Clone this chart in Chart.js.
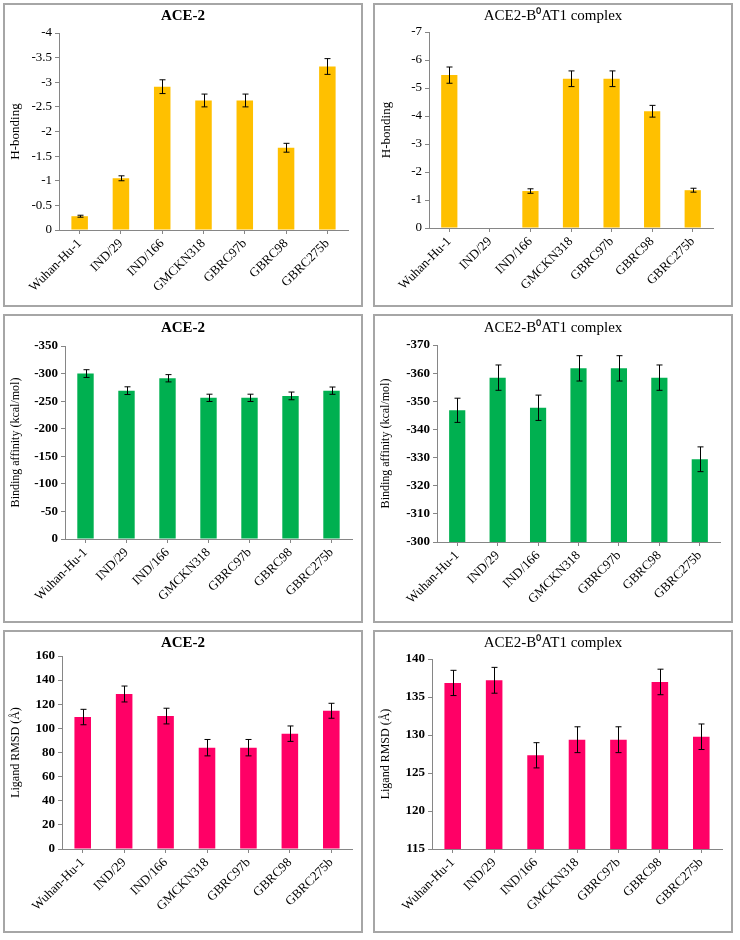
<!DOCTYPE html>
<html><head><meta charset="utf-8">
<script src="https://cdn.jsdelivr.net/npm/chart.js@4"></script>
<style>
body{margin:0;background:#fff;}
.panel{position:absolute;box-sizing:border-box;border:2px solid #a6a6a6;background:#fff;}
canvas{display:block;}
</style></head><body>
<div class="panel" style="left:3px;top:3px;width:360px;height:304px"><canvas id="c1" width="356" height="300"></canvas></div>
<div class="panel" style="left:373px;top:3px;width:360px;height:304px"><canvas id="c2" width="356" height="300"></canvas></div>
<div class="panel" style="left:3px;top:314px;width:360px;height:309px"><canvas id="c3" width="356" height="305"></canvas></div>
<div class="panel" style="left:373px;top:314px;width:360px;height:309px"><canvas id="c4" width="356" height="305"></canvas></div>
<div class="panel" style="left:3px;top:630px;width:360px;height:303px"><canvas id="c5" width="356" height="299"></canvas></div>
<div class="panel" style="left:373px;top:630px;width:360px;height:303px"><canvas id="c6" width="356" height="299"></canvas></div>
<script>
const strains = ['Wuhan-Hu-1','IND/29','IND/166','GMCKN318','GBRC97b','GBRC98','GBRC275b'];
const titleAce2 = 'ACE-2';
const titleComplex = 'ACE2-B\u2070AT1 complex';

const hbondAce2 = [-0.28,-1.05,-2.91,-2.63,-2.63,-1.67,-3.32];
const hbondAce2Err = [0.02,0.05,0.14,0.13,0.13,0.09,0.16];
const hbondComplex = [-5.46,0,-1.32,-5.33,-5.33,-4.17,-1.35];
const hbondComplexErr = [0.29,0,0.08,0.28,0.28,0.21,0.07];
const affinityAce2 = [-300,-269,-291.5,-256,-256,-259.5,-269];
const affinityAce2Err = [7,7,6.6,6.6,6.6,7,6.6];
const affinityComplex = [-346.8,-358.4,-347.7,-361.7,-361.7,-358.4,-329.4];
const affinityComplexErr = [4.3,4.5,4.5,4.5,4.5,4.5,4.4];
const rmsdAce2 = [109.4,128.5,110.2,84,84,95.6,114.6];
const rmsdAce2Err = [6.4,6.6,6.5,6.8,6.8,6.4,6.2];
const rmsdComplex = [136.85,137.2,127.33,129.38,129.38,136.98,129.77];
const rmsdComplexErr = [1.66,1.7,1.66,1.7,1.7,1.68,1.68];

const SERIF = "'Liberation Serif','Times New Roman',serif";
const AXIS_GREY = '#868686';

const errorBarPlugin = {
  id: 'errorBars',
  afterDatasetsDraw(chart, args, opts) {
    const errs = opts.errors;
    if (!errs) return;
    const meta = chart.getDatasetMeta(0);
    const ys = chart.scales.y;
    const vals = chart.data.datasets[0].data;
    const ctx = chart.ctx;
    ctx.save();
    ctx.strokeStyle = '#000';
    ctx.lineWidth = 1;
    meta.data.forEach((bar, i) => {
      const e = errs[i];
      if (!e) return;
      const x = Math.round(bar.x) + 0.5;
      const y1 = ys.getPixelForValue(vals[i] - e);
      const y2 = ys.getPixelForValue(vals[i] + e);
      ctx.beginPath();
      ctx.moveTo(x, y1); ctx.lineTo(x, y2);
      ctx.moveTo(x - 3, y1); ctx.lineTo(x + 3, y1);
      ctx.moveTo(x - 3, y2); ctx.lineTo(x + 3, y2);
      ctx.stroke();
    });
    ctx.restore();
  }
};
Chart.register(errorBarPlugin);

function makePanel(id, p) {
  const canvas = document.getElementById(id);
  const H = canvas.height;
  const titlePadTop = p.titleY - 9;
  const titlePadBottom = p.top - 18 - titlePadTop;
  new Chart(canvas, {
    type: 'bar',
    data: {
      labels: strains,
      datasets: [{ data: p.values, backgroundColor: p.color, borderWidth: 0,
        categoryPercentage: 1.0, barPercentage: 0.4 }]
    },
    options: {
      responsive: false,
      animation: false,
      events: [],
      layout: { padding: 0 },
      plugins: {
        legend: { display: false },
        tooltip: { enabled: false },
        title: { display: true, text: p.title, color: '#000',
          font: { family: SERIF, size: 15, weight: p.titleBold ? 'bold' : 'normal', lineHeight: 1.2 },
          padding: { top: titlePadTop, bottom: titlePadBottom } },
        errorBars: { errors: p.errors }
      },
      scales: {
        x: {
          grid: { display: true, drawOnChartArea: false, drawTicks: true, tickLength: 4, color: AXIS_GREY, offset: false },
          border: { color: AXIS_GREY },
          ticks: { color: '#000', autoSkip: false, minRotation: 45, maxRotation: 45, padding: 2,
            font: { family: SERIF, size: 13 } },
          afterFit: s => { s.height = H - p.bottom; }
        },
        y: {
          min: p.min, max: p.max, reverse: p.reverse,
          grid: { display: true, drawOnChartArea: false, drawTicks: true, tickLength: 4, color: AXIS_GREY },
          border: { color: AXIS_GREY },
          ticks: { stepSize: p.step, color: '#000', padding: 3,
            font: { family: SERIF, size: 13, weight: p.tickBold ? 'bold' : 'normal' },
            callback: v => String(Math.round(v * 100) / 100) },
          title: { display: true, text: p.yTitle, color: '#000',
            font: { family: SERIF, size: p.yTitleSize },
            padding: { top: p.yTitlePad, bottom: 0 } },
          afterFit: s => { s.width = p.axisX; }
        },
        spacer: {
          type: 'linear', position: 'right', display: true,
          grid: { display: false }, border: { display: false }, ticks: { display: false },
          afterFit: s => { s.width = p.rightPad; }
        }
      }
    }
  });
}

makePanel('c1', { title: titleAce2, titleBold: true, values: hbondAce2, errors: hbondAce2Err, color: '#FFC000',
  min: -4, max: 0, step: 0.5, reverse: true, tickBold: false, yTitle: 'H-bonding', yTitleSize: 13, yTitlePad: 3,
  axisX: 54, top: 28, bottom: 225, rightPad: 13, titleY: 11 });
makePanel('c2', { title: titleComplex, titleBold: false, values: hbondComplex, errors: hbondComplexErr, color: '#FFC000',
  min: -7, max: 0, step: 1, reverse: true, tickBold: false, yTitle: 'H-bonding', yTitleSize: 13, yTitlePad: 4,
  axisX: 54, top: 27, bottom: 223, rightPad: 18, titleY: 11 });
makePanel('c3', { title: titleAce2, titleBold: true, values: affinityAce2, errors: affinityAce2Err, color: '#00B050',
  min: -350, max: 0, step: 50, reverse: true, tickBold: true, yTitle: 'Binding affinity (kcal/mol)', yTitleSize: 12, yTitlePad: 4,
  axisX: 60, top: 30, bottom: 223, rightPad: 9, titleY: 12 });
makePanel('c4', { title: titleComplex, titleBold: false, values: affinityComplex, errors: affinityComplexErr, color: '#00B050',
  min: -370, max: -300, step: 10, reverse: true, tickBold: true, yTitle: 'Binding affinity (kcal/mol)', yTitleSize: 12, yTitlePad: 4,
  axisX: 62, top: 29, bottom: 226, rightPad: 11, titleY: 12 });
makePanel('c5', { title: titleAce2, titleBold: true, values: rmsdAce2, errors: rmsdAce2Err, color: '#FF0066',
  min: 0, max: 160, step: 20, reverse: false, tickBold: true, yTitle: 'Ligand RMSD (\u00C5)', yTitleSize: 12, yTitlePad: 4,
  axisX: 57, top: 24, bottom: 217, rightPad: 9, titleY: 11 });
makePanel('c6', { title: titleComplex, titleBold: false, values: rmsdComplex, errors: rmsdComplexErr, color: '#FF0066',
  min: 115, max: 140, step: 5, reverse: false, tickBold: true, yTitle: 'Ligand RMSD (\u00C5)', yTitleSize: 12, yTitlePad: 4,
  axisX: 57, top: 27, bottom: 217, rightPad: 9, titleY: 11 });
</script>
</body></html>
